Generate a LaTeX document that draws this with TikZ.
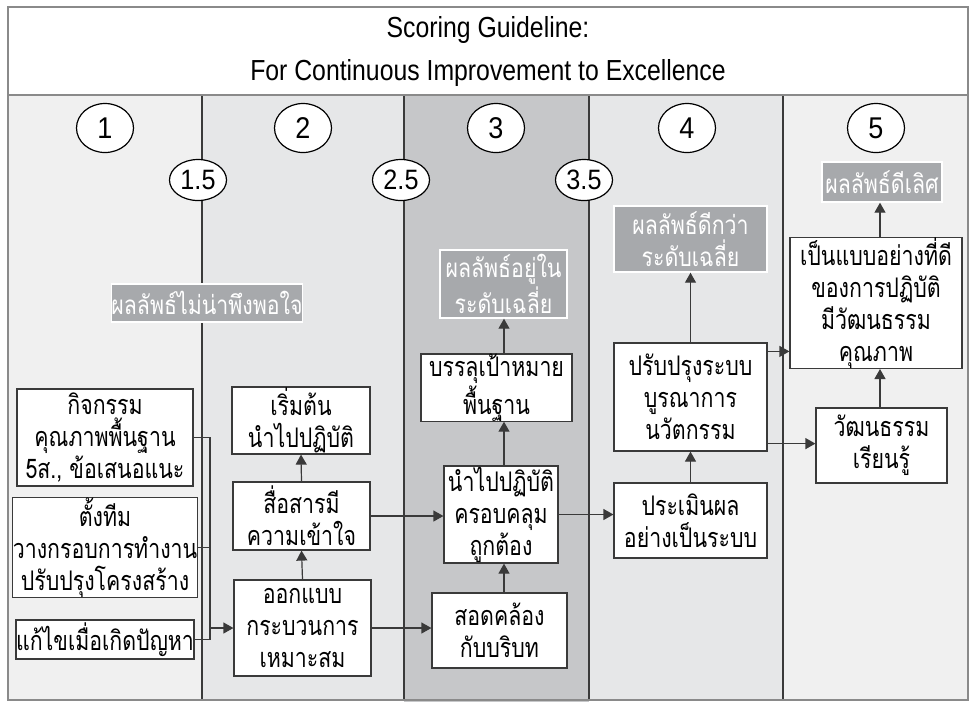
\documentclass[tikz,border=0pt]{standalone}
\usepackage{fontspec}
\setmainfont{Liberation Sans}
\newfontfamily\thaifont[Script=Thai,FakeStretch=0.79]{Loma}
\newfontfamily\thairesfont[Script=Thai,FakeStretch=0.82]{Loma}
\newfontfamily\narrowfont[FakeStretch=0.9]{Liberation Sans}
\newfontfamily\titlefont[FakeStretch=0.855]{Liberation Sans}
\usetikzlibrary{arrows.meta,calc,shapes.geometric}
\definecolor{colA}{HTML}{F0F0F0}
\definecolor{colB}{HTML}{E6E7E8}
\definecolor{colC}{HTML}{C6C7C9}
\definecolor{resgray}{HTML}{A7A9AC}
\definecolor{framegray}{HTML}{8A8A8A}
\definecolor{linegray}{HTML}{3A3A3A}
\tikzset{
  box/.style={draw=linegray, fill=white, line width=0.6pt, align=center, inner sep=0pt,
    font=\thaifont\fontsize{13.5}{16}\selectfont},
  res/.style={draw=white, fill=resgray, line width=0.7pt, align=center, inner sep=0pt, text=white,
    font=\thairesfont\fontsize{13}{16}\selectfont},
  circ/.style={ellipse, draw=black, fill=white, line width=0.6pt, inner sep=0pt,
    minimum width=28.5pt, minimum height=24.5pt, font=\narrowfont\fontsize{15}{16}\selectfont},
  hcirc/.style={ellipse, draw=black, fill=white, line width=0.6pt, inner sep=0pt,
    minimum width=28.5pt, minimum height=20.5pt, font=\narrowfont\fontsize{14}{16}\selectfont},
  arr/.style={draw=linegray, line width=0.6pt, -{Triangle[length=5pt,width=5.5pt]}},
  ln/.style={draw=linegray, line width=0.6pt},
  divider/.style={draw=linegray, line width=0.6pt},
  titletext/.style={font=\titlefont\fontsize{14.5}{16}\selectfont}
}
\newcommand\bx[7]{\node[#1, minimum width=#5*0.5pt, minimum height=#6*0.5pt] (#2) at (#3,#4) {#7};}
\begin{document}
\begin{tikzpicture}[x=0.5pt,y=-0.5pt]
\useasboundingbox (0,0) rectangle (976,720);
% column fills
\fill[colA] (8,95) rectangle (202,700);
\fill[colB] (202,95) rectangle (404,700);
\fill[colC] (404,95) rectangle (589,702);
\fill[colB] (589,95) rectangle (783,700);
\fill[colA] (783,95) rectangle (968,700);
\fill[white] (8,7) rectangle (968,95);
% dividers
\foreach \xx in {202,404,589,783} \draw[divider] (\xx,95) -- (\xx,700);
\draw[framegray, line width=0.8pt] (8,7) rectangle (968,700);
\draw[framegray, line width=0.8pt] (8,95) -- (968,95);
% title
\node[titletext] (title1) at (488,30) {Scoring Guideline:};
\node[titletext] (title2) at (488,73) {For Continuous Improvement to Excellence};
% level circles
\node[circ] (c1) at (105,128) {1};
\node[circ] (c2) at (303,128) {2};
\node[circ] (c3) at (496,128) {3};
\node[circ] (c4) at (687,128) {4};
\node[circ] (c5) at (876,128) {5};
\node[hcirc] (h1) at (198,180) {1.5};
\node[hcirc] (h2) at (401,180) {2.5};
\node[hcirc] (h3) at (584,180) {3.5};
% result boxes
\bx{res}{r1}{207}{303}{190}{38}{ผลลัพธ์ไม่น่าพึงพอใจ}
\bx{res}{r2}{503.5}{284}{127}{68}{ผลลัพธ์อยู่ใน\\ระดับเฉลี่ย}
\bx{res}{r3}{690.5}{239}{153}{66}{ผลลัพธ์ดีกว่า\\ระดับเฉลี่ย}
\bx{res}{r4}{882}{182}{120}{40}{ผลลัพธ์ดีเลิศ}
% white boxes
\bx{box}{k1}{105}{437.5}{176}{97}{กิจกรรม\\คุณภาพพื้นฐาน\\5ส., ข้อเสนอแนะ}
\bx{box}{k2}{105}{547.5}{176}{97}{ตั้งทีม\\วางกรอบการทำงาน\\ปรับปรุงโครงสร้าง}
\bx{box}{k3}{105}{639.5}{176}{39}{แก้ไขเมื่อเกิดปัญหา}
\bx{box}{s1}{301}{420.5}{138}{67}{เริ่มต้น\\นำไปปฏิบัติ}
\bx{box}{s2}{301.5}{516}{137}{68}{สื่อสารมี\\ความเข้าใจ}
\bx{box}{s3}{302.5}{628}{137}{96}{ออกแบบ\\กระบวนการ\\เหมาะสม}
\bx{box}{t1}{496.5}{387.5}{151}{67}{บรรลุเป้าหมาย\\พื้นฐาน}
\bx{box}{t2}{501}{514.5}{114}{97}{นำไปปฏิบัติ\\ครอบคลุม\\ถูกต้อง}
\bx{box}{t3}{499.5}{630.5}{135}{75}{สอดคล้อง\\กับบริบท}
\bx{box}{f1}{690.5}{397}{153}{108}{ปรับปรุงระบบ\\บูรณาการ\\นวัตกรรม}
\bx{box}{f2}{690.5}{520.5}{153}{75}{ประเมินผล\\อย่างเป็นระบบ}
\bx{box}{v1}{876}{303}{172}{130}{เป็นแบบอย่างที่ดี\\ของการปฏิบัติ\\มีวัฒนธรรม\\คุณภาพ}
\bx{box}{v2}{881.5}{445.5}{131}{75}{วัฒนธรรม\\เรียนรู้}
% connectors, column 1
\coordinate (j) at (210,628);
\draw[ln] (k1.east) -- (k1.east -| j) -- (k3.east -| j) -- (k3.east);
\draw[ln] (k2.east) -- (k2.east -| j);
\draw[arr] (j) -- (s3.west);
% column 2
\draw[arr] (s3.north) -- (s2.south);
\draw[arr] (s2.north) -- (s1.south);
\draw[arr] (s2.east) -- (s2.east -| t2.west);
\draw[arr] (s3.east) -- (s3.east -| t3.west);
% column 3
\coordinate (cx3) at (504,0);
\draw[arr] (t3.north -| cx3) -- (t2.south -| cx3);
\draw[arr] (t2.north -| cx3) -- (t1.south -| cx3);
\draw[arr] (t1.north -| cx3) -- (r2.south -| cx3);
\draw[arr] (t2.east) -- (t2.east -| f2.west);
% column 4
\draw[arr] (f2.north) -- (f1.south);
\draw[arr] (f1.north) -- (r3.south);
\draw[arr] ($(f1.north east)+(0,9)$) coordinate (a1) -- (a1 -| v1.west);
\draw[arr] ($(f1.south east)+(0,-8)$) coordinate (a2) -- (a2 -| v2.west);
% column 5
\coordinate (cx5) at (880,0);
\draw[arr] (v2.north -| cx5) -- (v1.south -| cx5);
\draw[arr] (v1.north -| cx5) -- (r4.south -| cx5);
\end{tikzpicture}
\end{document}
